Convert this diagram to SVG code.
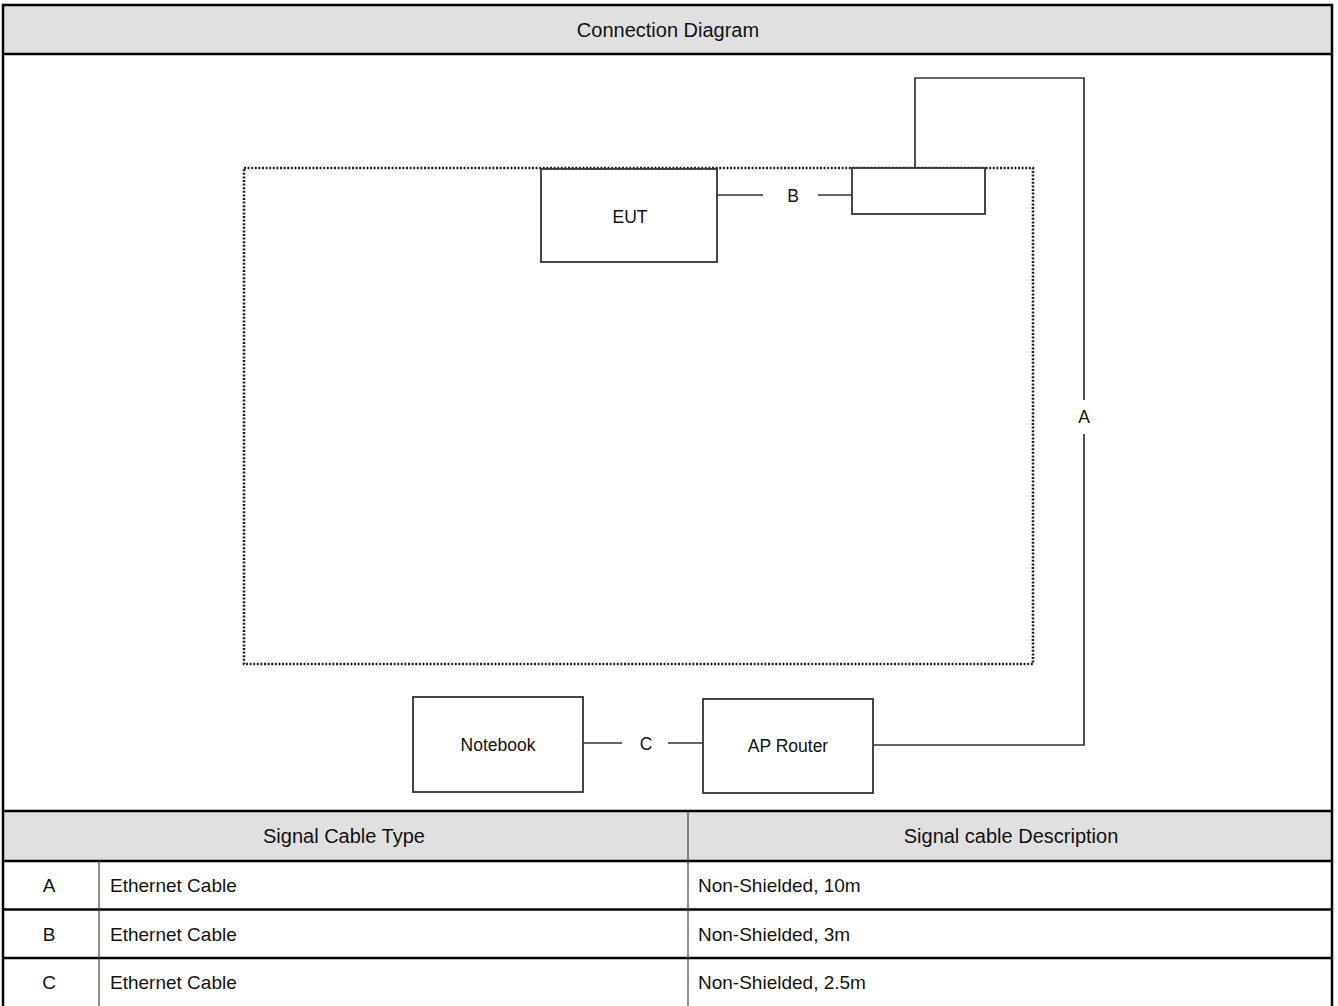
<svg xmlns="http://www.w3.org/2000/svg" width="1338" height="1006" viewBox="0 0 1338 1006">
<style>
text{font-family:"Liberation Sans",Arial,sans-serif;fill:#111}
.hdr{fill:#e0e0e0}
.bd{stroke:#000;stroke-width:2.5;fill:none}
.thin{stroke:#444;stroke-width:1.2;fill:none}
.box{fill:#fff;stroke:#333;stroke-width:1.8}
.wire{stroke:#333;stroke-width:1.7;fill:none}
.dot{stroke:#222;stroke-width:2.6;fill:none;stroke-dasharray:2 1.6}
.t20{font-size:20px}
.t19{font-size:19px}
.t17{font-size:17.5px}
</style>
<rect x="0" y="0" width="1338" height="1006" fill="#fff"/>
<g id="table">
<rect class="hdr" x="3" y="5" width="1329" height="49"/>
<rect class="hdr" x="3" y="811" width="1329" height="50"/>
<text class="t20" x="668" y="37" text-anchor="middle">Connection Diagram</text>
<text class="t20" x="344" y="843" text-anchor="middle">Signal Cable Type</text>
<text class="t20" x="1011" y="843" text-anchor="middle">Signal cable Description</text>
<text class="t19" x="49" y="892" text-anchor="middle">A</text>
<text class="t19" x="110" y="892">Ethernet Cable</text>
<text class="t19" x="698" y="892">Non-Shielded, 10m</text>
<text class="t19" x="49" y="941" text-anchor="middle">B</text>
<text class="t19" x="110" y="941">Ethernet Cable</text>
<text class="t19" x="698" y="941">Non-Shielded, 3m</text>
<text class="t19" x="49" y="989" text-anchor="middle">C</text>
<text class="t19" x="110" y="989">Ethernet Cable</text>
<text class="t19" x="698" y="989">Non-Shielded, 2.5m</text>
<path class="bd" d="M3 1006V5H1332V1006M3 54H1332M3 811H1332M3 861H1332M3 909.5H1332M3 958H1332"/>
<path class="thin" d="M99 861V1006M688 811V1006"/>
</g>
<g id="connectors">
<rect class="dot" x="244" y="168" width="789" height="496"/>
<path class="wire" d="M717 195H763M818 195H852"/>
<text class="t17" x="793" y="202" text-anchor="middle">B</text>
<path class="wire" d="M915 168V78H1084V400M1084 434V745H873"/>
<text class="t17" x="1084" y="423" text-anchor="middle">A</text>
<path class="wire" d="M583 743H622M668 743H703"/>
<text class="t17" x="646" y="750" text-anchor="middle">C</text>
</g>
<g id="eut">
<rect class="box" x="541" y="169" width="176" height="93"/>
<text class="t17" x="630" y="223" text-anchor="middle">EUT</text>
</g>
<g id="switch">
<rect class="box" x="852" y="168" width="133" height="46"/>
</g>
<g id="notebook">
<rect class="box" x="413" y="697" width="170" height="95"/>
<text class="t17" x="498" y="751" text-anchor="middle">Notebook</text>
</g>
<g id="ap-router">
<rect class="box" x="703" y="699" width="170" height="94"/>
<text class="t17" x="788" y="752" text-anchor="middle">AP Router</text>
</g>
</svg>
